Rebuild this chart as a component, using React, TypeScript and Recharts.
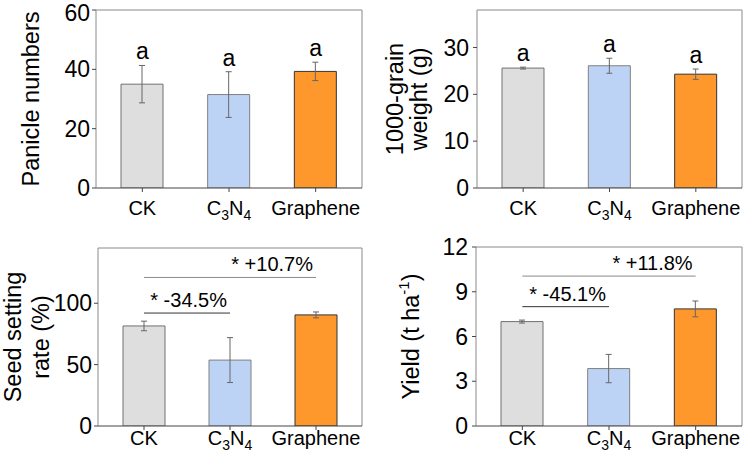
import React from 'react';
import {
  ComposedChart,
  Bar,
  Line,
  XAxis,
  YAxis,
  ErrorBar,
  Cell,
  CartesianGrid,
  LabelList,
  ReferenceLine,
} from 'recharts';

const categories = ['CK', 'C3N4', 'Graphene'];

const panicleMean = [35.0, 31.5, 39.3];
const panicleErr = [6.3, 7.7, 3.1];
const grainMean = [25.6, 26.1, 24.3];
const grainErr = [0.2, 1.6, 1.1];
const seedMean = [81.5, 53.7, 90.5];
const seedErr = [3.9, 18.3, 2.4];
const yieldMean = [7.0, 3.85, 7.85];
const yieldErr = [0.1, 0.95, 0.53];

const panicleTicks = [0, 20, 40, 60];
const grainTicks = [0, 10, 20, 30];
const seedTicks = [0, 50, 100];
const yieldTicks = [0, 3, 6, 9, 12];

const sigLetters = ['a', 'a', 'a'];

const seedBrackets = [
  { from: 'CK', to: 'C3N4', y: 92, text: '* -34.5%' },
  { from: 'CK', to: 'Graphene', y: 121, text: '* +10.7%' },
];
const yieldBrackets = [
  { from: 'CK', to: 'C3N4', y: 8.0, text: '* -45.1%' },
  { from: 'CK', to: 'Graphene', y: 10.05, text: '* +11.8%' },
];

const FONT = '"Liberation Sans", Arial, sans-serif';
const fills = ['#dedede', '#bdd3f6', '#fe982d'];
const strokes = ['#707070', '#808080', '#333333'];
const bracketColors = ['#333333', '#8a8a8a'];

const rows = (mean: number[], err: number[]) =>
  categories.map((name, i) => ({
    name,
    mean: mean[i],
    err: err[i],
    upper: mean[i] + err[i],
    letter: sigLetters[i],
  }));

function CatTick(props: any) {
  const { x, y, payload, dyBase } = props;
  const v = payload.value;
  if (v === 'C3N4') {
    return (
      <text x={x} y={y + dyBase} textAnchor="middle" fontSize={20} fontFamily={FONT} fill="#000">
        <tspan>C</tspan>
        <tspan fontSize={14} dy={5}>3</tspan>
        <tspan dy={-5}>N</tspan>
        <tspan fontSize={14} dy={5}>4</tspan>
      </text>
    );
  }
  return (
    <text x={x} y={y + dyBase} textAnchor="middle" fontSize={20} fontFamily={FONT} fill="#000">
      {v}
    </text>
  );
}

function LetterLabel(props: any) {
  const { x, y, value } = props;
  return (
    <text x={x} y={y - 6} textAnchor="middle" fontSize={23} fontFamily={FONT} fill="#000">
      {value}
    </text>
  );
}

function AxisTitle({ lines, cy }: { lines: { x: number; content: React.ReactNode }[]; cy: number }) {
  return (
    <g>
      {lines.map((l, i) => (
        <text
          key={i}
          x={l.x}
          y={cy}
          transform={`rotate(-90, ${l.x}, ${cy})`}
          textAnchor="middle"
          dominantBaseline="central"
          fontSize={23.5}
          fontFamily={FONT}
          fill="#000"
        >
          {l.content}
        </text>
      ))}
    </g>
  );
}

function Panel(p: any) {
  const cy = p.mTop + (p.height - p.mTop - p.xHeight) / 2;
  return (
    <div style={{ position: 'absolute', left: p.left, top: p.top }}>
      <ComposedChart
        width={p.width}
        height={p.height}
        data={p.data}
        margin={{ top: p.mTop, right: p.mRight, bottom: 0, left: 0 }}
      >
        <CartesianGrid
          stroke="#8a8a8a"
          horizontalCoordinatesGenerator={({ offset }: any) => [offset.top]}
          verticalCoordinatesGenerator={({ offset }: any) => [offset.left + offset.width]}
        />
        <XAxis
          dataKey="name"
          height={p.xHeight}
          interval={0}
          padding={{ left: 3, right: 3 }}
          tickSize={4}
          tickMargin={2}
          axisLine={{ stroke: '#444' }}
          tickLine={{ stroke: '#444' }}
          tick={<CatTick dyBase={p.xDy} />}
        />
        <YAxis
          type="number"
          width={p.yWidth}
          domain={p.domain}
          ticks={p.ticks}
          allowDataOverflow
          tickSize={4}
          tickMargin={p.yTickMargin}
          axisLine={{ stroke: '#8a8a8a' }}
          tickLine={{ stroke: '#444' }}
          tick={{ fontSize: 23, fill: '#000', fontFamily: FONT }}
          label={<AxisTitle lines={p.title} cy={cy} />}
        />
        <Bar dataKey="mean" barSize={42} isAnimationActive={false}>
          {p.data.map((d: any, i: number) => (
            <Cell key={d.name} fill={fills[i]} stroke={strokes[i]} strokeWidth={1} />
          ))}
          <ErrorBar dataKey="err" width={3} stroke="#666" strokeWidth={1} isAnimationActive={false} />
        </Bar>
        {p.letters && (
          <Line dataKey="upper" stroke="none" dot={false} activeDot={false} isAnimationActive={false} legendType="none">
            <LabelList dataKey="letter" content={LetterLabel} />
          </Line>
        )}
        {(p.brackets || []).map((b: any, i: number) => (
          <ReferenceLine
            key={b.text}
            segment={[
              { x: b.from, y: b.y },
              { x: b.to, y: b.y },
            ]}
            stroke={bracketColors[i]}
            strokeWidth={1}
            ifOverflow="visible"
            label={(lp: any) => {
              const vb = lp.viewBox;
              return (
                <text
                  x={vb.x + vb.width - 3}
                  y={vb.y - 6}
                  textAnchor="end"
                  fontSize={20}
                  fontFamily={FONT}
                  fill="#000"
                >
                  {b.text}
                </text>
              );
            }}
          />
        ))}
      </ComposedChart>
    </div>
  );
}

export default function App() {
  return (
    <div style={{ position: 'absolute', left: 0, top: 0, width: 743, height: 458, background: '#fff' }}>
      <Panel
        left={0}
        top={0}
        width={372}
        height={229}
        data={rows(panicleMean, panicleErr)}
        domain={[0, 60]}
        ticks={panicleTicks}
        yWidth={96}
        mTop={10}
        mRight={10}
        xHeight={41}
        yTickMargin={2}
        xDy={21}
        letters
        title={[{ x: 31, content: 'Panicle numbers' }]}
      />
      <Panel
        left={372}
        top={0}
        width={371}
        height={229}
        data={rows(grainMean, grainErr)}
        domain={[0, 38]}
        ticks={grainTicks}
        yWidth={105}
        mTop={10}
        mRight={1}
        xHeight={41}
        yTickMargin={4}
        xDy={21}
        letters
        title={[
          { x: 22.5, content: '1000-grain' },
          { x: 47, content: 'weight (g)' },
        ]}
      />
      <Panel
        left={0}
        top={229}
        width={372}
        height={229}
        data={rows(seedMean, seedErr)}
        domain={[0, 145]}
        ticks={seedTicks}
        yWidth={98}
        mTop={19}
        mRight={10}
        xHeight={32}
        yTickMargin={2}
        xDy={13.4}
        brackets={seedBrackets}
        title={[
          { x: 13, content: 'Seed setting' },
          { x: 41, content: 'rate (%)' },
        ]}
      />
      <Panel
        left={372}
        top={229}
        width={371}
        height={229}
        data={rows(yieldMean, yieldErr)}
        domain={[0, 12]}
        ticks={yieldTicks}
        yWidth={104}
        mTop={18}
        mRight={1}
        xHeight={32}
        yTickMargin={4}
        xDy={13.4}
        brackets={yieldBrackets}
        title={[
          {
            x: 39,
            content: (
              <>
                <tspan>Yield (t ha</tspan>
                <tspan fontSize={15} dy={-8}>-1</tspan>
                <tspan dy={8}>)</tspan>
              </>
            ),
          },
        ]}
      />
    </div>
  );
}
